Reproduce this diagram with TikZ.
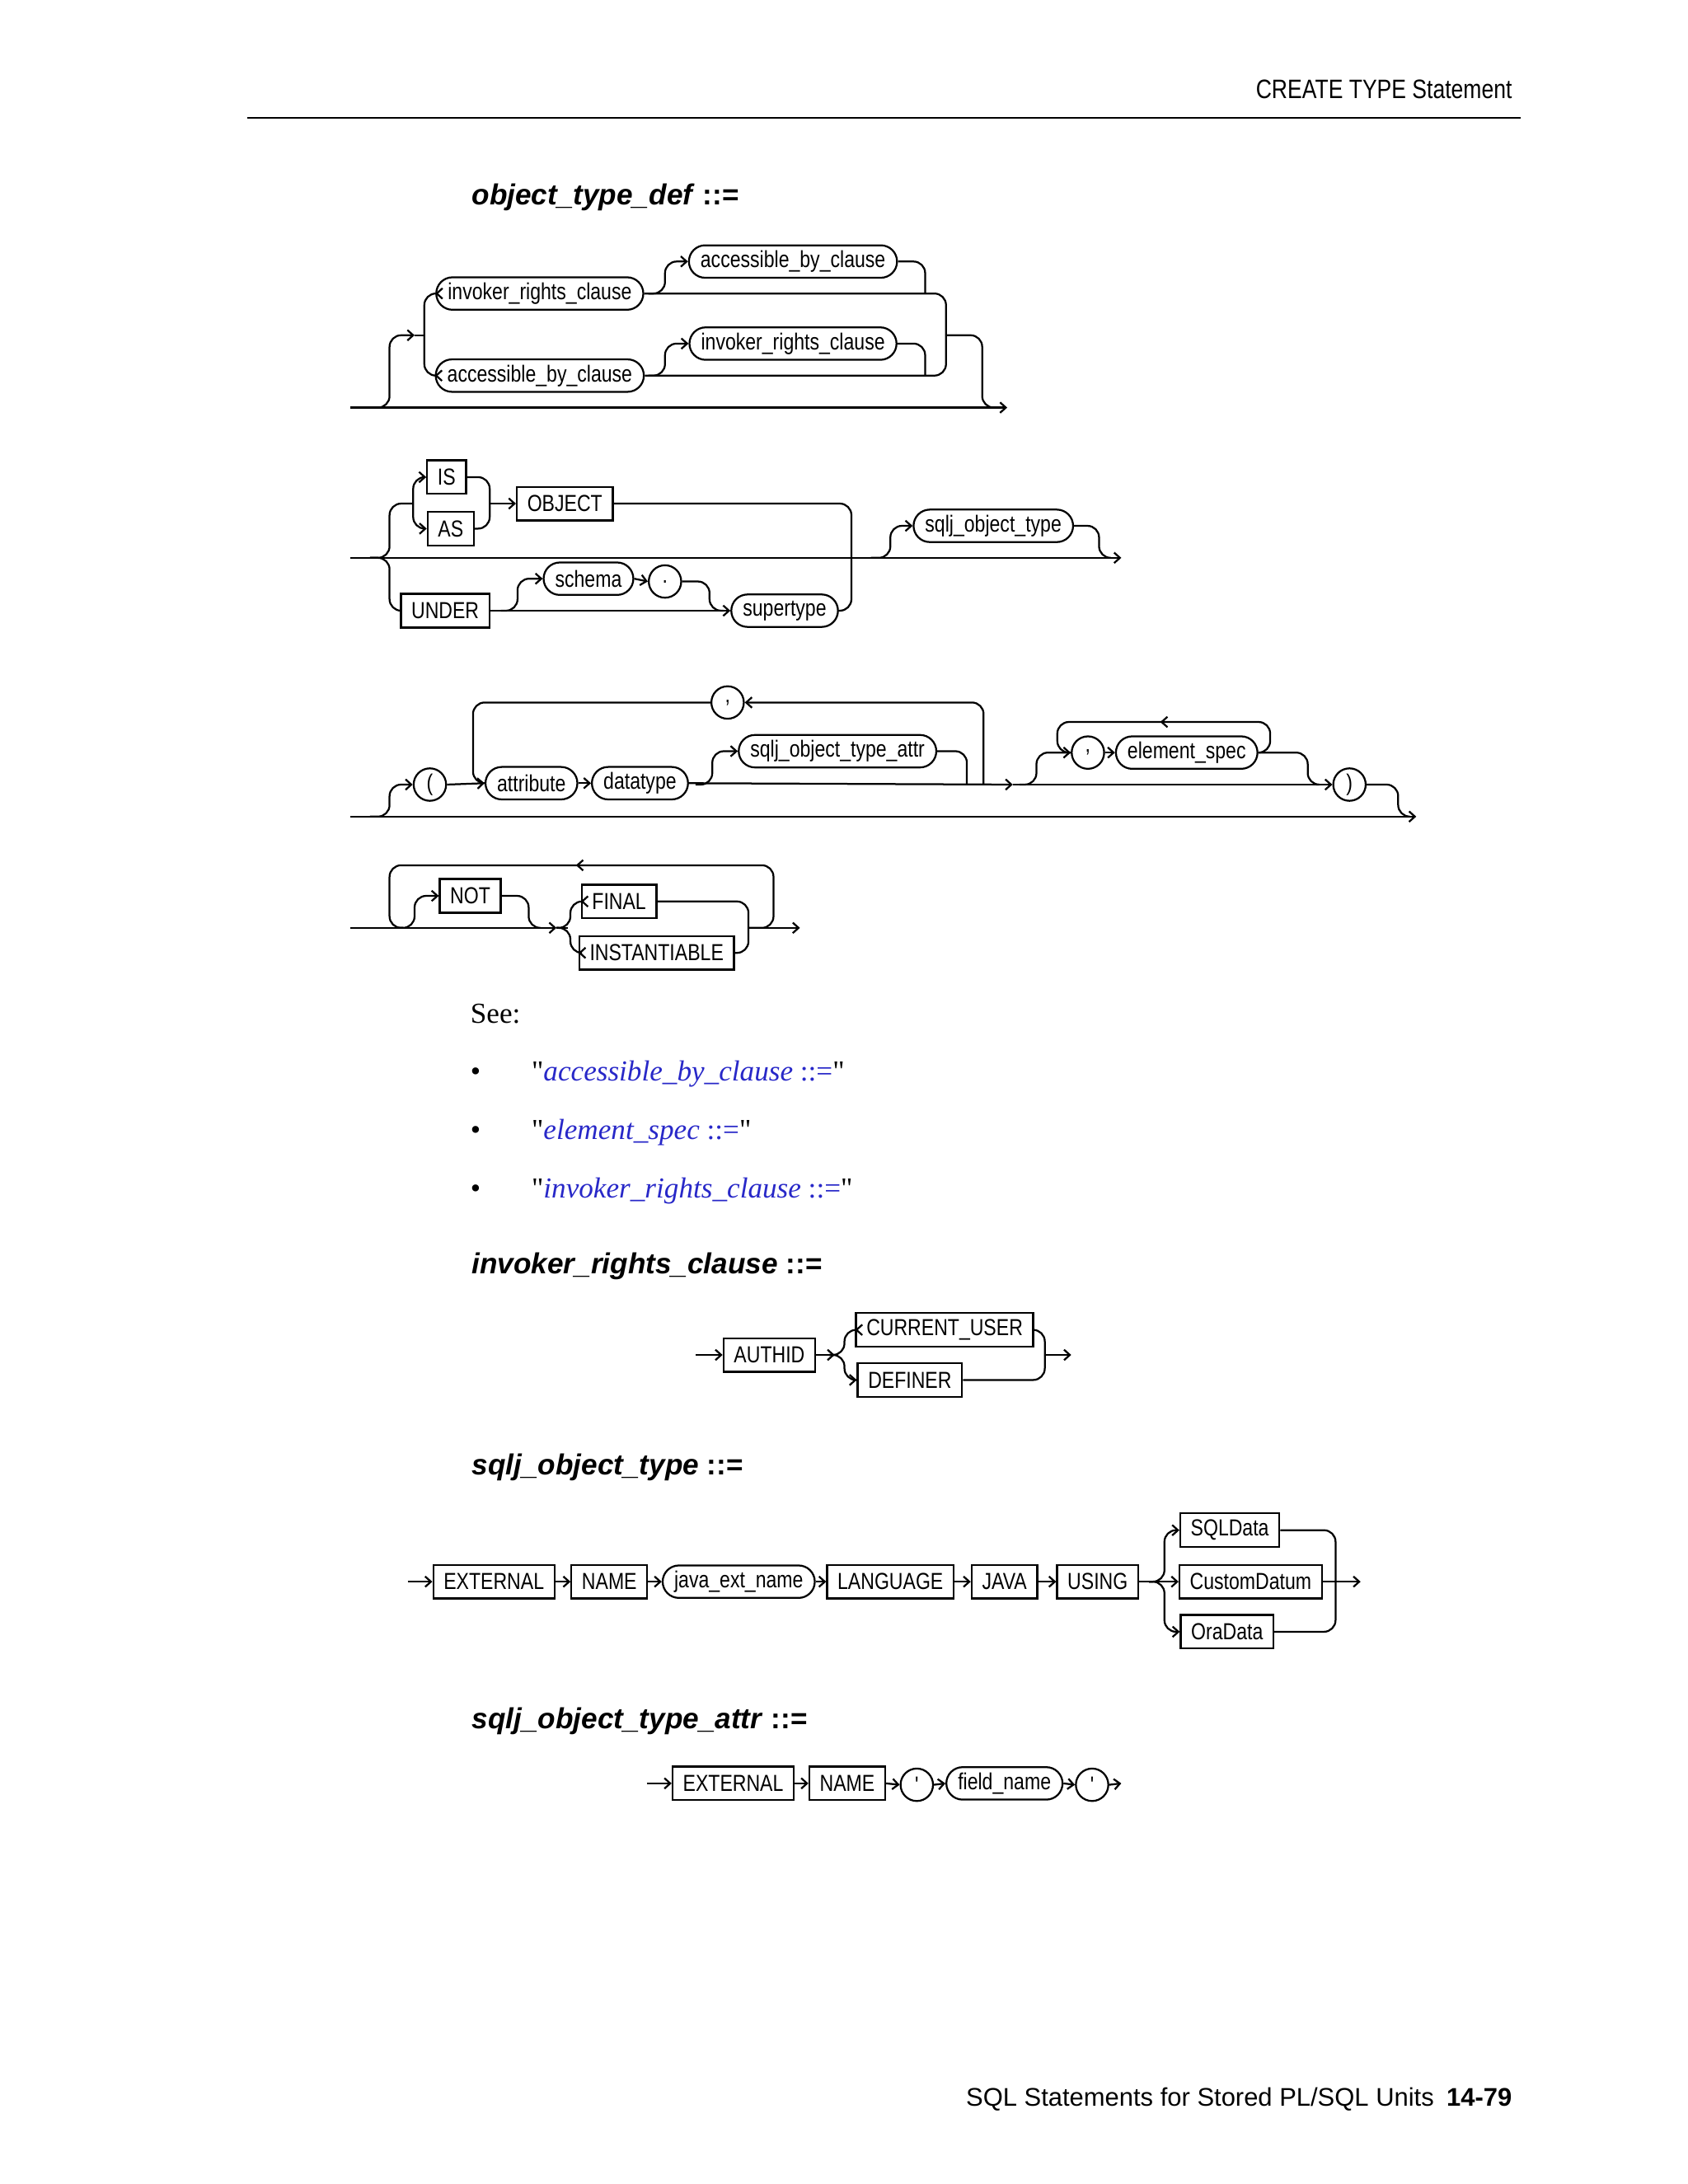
\documentclass[tikz,border=0pt]{standalone}
\usepackage{fontspec}
\usetikzlibrary{arrows.meta}
\newfontfamily\kwf[FakeStretch=0.82]{Liberation Sans}
\newfontfamily\ttlf{Liberation Sans}
\newfontfamily\serf{Liberation Serif}
\definecolor{linkblue}{RGB}{40,40,200}
\begin{document}
\begin{tikzpicture}[x=0.6pt,y=-0.6pt,line width=0.8pt,>={Straight Barb[length=2.5pt,width=4.5pt]},
 kw/.style={draw,rectangle,font=\kwf\fontsize{10}{12}\selectfont,minimum height=14.5pt,inner xsep=4.5pt,inner ysep=0pt,fill=white},
 nt/.style={draw,rounded corners=7pt,font=\kwf\fontsize{10}{12}\selectfont,minimum height=14pt,minimum width=14pt,inner xsep=5pt,inner ysep=0pt,fill=white},
 rail/.style={rounded corners=5pt},
 ttl/.style={anchor=west,font=\ttlf\fontsize{12.5}{14}\selectfont\bfseries\itshape},
 lnk/.style={anchor=west,font=\serf\fontsize{12.5}{14}\selectfont}]
\useasboundingbox (0,0) rectangle (1213,1570);
% header / footer
\node[anchor=base east,font=\kwf\fontsize{11.5}{13}\selectfont] (hdr) at (1093,71) {CREATE TYPE Statement};
\draw[line width=0.7pt] (178,85) -- (1093,85);
\node[anchor=base east,font=\ttlf\fontsize{11}{13}\selectfont] (ftr) at (1093,1514) {SQL Statements for Stored PL/SQL Units\enspace\textbf{14-79}};
% titles
\node[ttl] (t1) at (333,142) {object\_type\_def \textup{::=}};
\node[ttl] (t2) at (333,910) {invoker\_rights\_clause \textup{::=}};
\node[ttl] (t3) at (333,1055) {sqlj\_object\_type \textup{::=}};
\node[ttl] (t4) at (333,1237) {sqlj\_object\_type\_attr \textup{::=}};
% ---------- diagram 1
\draw[->] (252,293) -- (724,293);
\node[nt] (ir1) at (388,211) {invoker\_rights\_clause};
\node[nt] (ab1) at (388,270) {accessible\_by\_clause};
\node[nt] (ab2) at (570,188) {accessible\_by\_clause};
\node[nt] (ir2) at (570,247) {invoker\_rights\_clause};
\draw[rail,->] (266,293) -| (280,241) -- (298,241);
\draw[rail] (298,241) -- (305,241);
\draw[rail,->] (305,241) |- (ir1.west);
\draw[rail,->] (305,241) |- (ab1.west);
\draw[rail] (ir1.east) -| (680,241);
\draw[rail] (ab1.east) -| (680,241);
\draw[rail] (680,241) -| (706,293) -- (712,293);
\draw[rail,->] (466,211) -| (478,188) -- (ab2.west);
\draw[rail] (ab2.east) -| (665,211);
\draw[rail,->] (466,270) -| (478,247) -- (ir2.west);
\draw[rail] (ir2.east) -| (665,270);
% ---------- diagram 2
\draw[->] (252,401) -- (806,401);
\node[kw] (is) at (321,343) {IS};
\node[kw] (as) at (324,380) {AS};
\node[kw] (obj) at (406,362) {OBJECT};
\node[kw] (under) at (320,439) {UNDER};
\node[nt] (schema) at (423,416) {schema};
\node[nt] (dot) at (478,418) {.};
\node[nt] (super) at (564,439) {supertype};
\node[nt] (sot) at (714,378) {sqlj\_object\_type};
\draw[rail] (266,401) -| (280,362) -- (297,362);
\draw[rail,->] (297,362) |- (is.west);
\draw[rail,->] (297,362) |- (as.west);
\draw[rail] (is.east) -| (352,362);
\draw[rail] (as.east) -| (352,362);
\draw[->] (352,362) -- (obj.west);
\draw[rail] (obj.east) -| (612,401);
\draw[rail] (266,401) -| (280,439) -- (under.west);
\draw[->] (under.east) -- (super.west);
\draw[rail,->] (360,439) -| (372,416) -- (schema.west);
\draw[->] (schema.east) -- (dot.west);
\draw[rail] (dot.east) -| (510,439) -- (520,439);
\draw[rail] (super.east) -| (612,401);
\draw[rail,->] (626,401) -| (640,378) -- (sot.west);
\draw[rail] (sot.east) -| (790,401) -- (796,401);
% ---------- diagram 3
\draw[->] (252,587) -- (1018,587);
\node[nt] (lp) at (309,564) {(};
\node[nt] (attr) at (382,563) {attribute};
\node[nt] (dtype) at (460,563) {datatype};
\node[nt] (sattr) at (602,540) {sqlj\_object\_type\_attr};
\node[nt] (c1) at (523,505) {,};
\node[nt] (c2) at (782,541) {,};
\node[nt] (elem) at (853,541) {element\_spec};
\node[nt] (rp) at (970,564) {)};
\draw[rail,->] (266,587) -| (280,564) -- (lp.west);
\draw[->] (lp.east) -- (attr.west);
\draw[->] (attr.east) -- (dtype.west);
\draw[rail,->] (dtype.east) -- (728,564);
\draw[rail,->] (707,564) |- (c1.east);
\draw[rail] (c1.west) -| (340,563) -- (345,563);
\draw[rail,->] (500,564) -| (512,540) -- (sattr.west);
\draw[rail] (sattr.east) -| (695,564);
\draw[->] (728,564) -- (rp.west);
\draw[rail,->] (733,564) -| (745,541) -- (c2.west);
\draw[->] (c2.east) -- (elem.west);
\draw[rail] (elem.east) -| (940,564) -- (946,564);
\draw[rail] (elem.east) -| (913,519) -| (760,541) -- (c2.west);
\draw[->] (842,519) -- (834,519);
\draw[rail] (rp.east) -| (1005,587) -- (1010,587);
% ---------- diagram 4
\node[kw] (not) at (338,644) {NOT};
\node[kw] (fin) at (445,648) {FINAL};
\node[kw] (inst) at (472,685) {INSTANTIABLE};
\draw[->] (252,667) -- (400,667);
\draw (400,667) -- (408,667);
\draw[->] (538,667) -- (575,667);
\draw[rail] (538,667) -| (556,622) -| (280,667) -- (290,667);
\draw[->] (424,622) -- (414,622);
\draw[rail,->] (284,667) -| (298,644) -- (not.west);
\draw[rail] (not.east) -| (380,667) -- (388,667);
\draw[rail,->] (400,667) -| (410,648) -- (fin.west);
\draw[rail,->] (400,667) -| (410,685) -- (inst.west);
\draw[rail] (fin.east) -| (538,667);
\draw[rail] (inst.east) -| (538,667);
% See
\node[lnk] (see) at (332,729) {See:};
\node[lnk] (b1) at (332,772) {\textbullet\hspace{22pt}"\textcolor{linkblue}{\textit{accessible\_by\_clause} ::=}"};
\node[lnk] (b2) at (332,814) {\textbullet\hspace{22pt}"\textcolor{linkblue}{\textit{element\_spec} ::=}"};
\node[lnk] (b3) at (332,856) {\textbullet\hspace{22pt}"\textcolor{linkblue}{\textit{invoker\_rights\_clause} ::=}"};
% ---------- diagram 5
\node[kw] (auth) at (553,974) {AUTHID};
\node[kw] (cu) at (679,956) {CURRENT\_USER};
\node[kw] (def) at (654,992) {DEFINER};
\coordinate (s5) at (500,974);
\draw[->] (s5) -- (auth.west);
\draw[->] (auth.east) -- (600,974);
\draw[rail,->] (596,974) -| (607,956) -- (cu.west);
\draw[rail,->] (596,974) -| (607,992) -- (def.west);
\draw[rail] (cu.east) -| (751,974);
\draw[rail] (def.east) -| (751,974);
\draw[->] (751,974) -- (770,974);
% ---------- diagram 6
\node[kw] (ext) at (355,1137) {EXTERNAL};
\node[kw] (name) at (438,1137) {NAME};
\node[nt] (jen) at (531,1137) {java\_ext\_name};
\node[kw] (lang) at (640,1137) {LANGUAGE};
\node[kw] (java) at (722,1137) {JAVA};
\node[kw] (using) at (789,1137) {USING};
\node[kw] (sqld) at (884,1100) {SQLData};
\node[kw] (cd) at (899,1137) {CustomDatum};
\node[kw] (ora) at (882,1173) {OraData};
\draw[->] (293,1137) -- (ext.west);
\draw[->] (ext.east) -- (name.west);
\draw[->] (name.east) -- (jen.west);
\draw[->] (jen.east) -- (lang.west);
\draw[->] (lang.east) -- (java.west);
\draw[->] (java.east) -- (using.west);
\draw[->] (using.east) -- (cd.west);
\draw[rail,->] (826,1137) -| (837,1100) -- (sqld.west);
\draw[rail,->] (826,1137) -| (837,1173) -- (ora.west);
\draw[rail] (sqld.east) -| (960,1137);
\draw[rail] (ora.east) -| (960,1137);
\draw[->] (cd.east) -- (978,1137);
% ---------- diagram 7
\node[kw] (ext2) at (527,1282) {EXTERNAL};
\node[kw] (name2) at (609,1282) {NAME};
\node[nt] (q1) at (659,1283) {'};
\node[nt] (fn) at (722,1282) {field\_name};
\node[nt] (q2) at (785,1283) {'};
\draw[->] (465,1282) -- (ext2.west);
\draw[->] (ext2.east) -- (name2.west);
\draw[->] (name2.east) -- (q1.west);
\draw[->] (q1.east) -- (fn.west);
\draw[->] (fn.east) -- (q2.west);
\draw[->] (q2.east) -- (806,1282);
\end{tikzpicture}
\end{document}
